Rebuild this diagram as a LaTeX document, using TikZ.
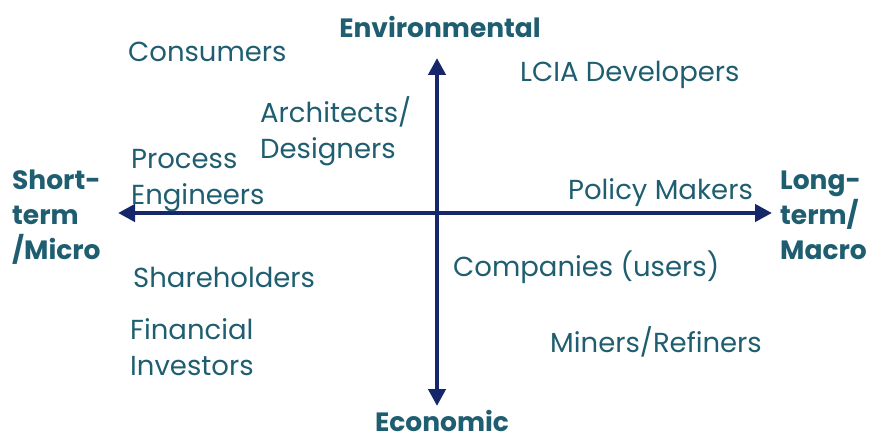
\documentclass[tikz,border=0pt]{standalone}
\usepackage{fontspec}
\setmainfont{Poppins}
\usetikzlibrary{arrows.meta}
\definecolor{txt}{HTML}{1F5E70}
\definecolor{axis}{HTML}{15266B}
\begin{document}
\begin{tikzpicture}[x=1pt,y=-1pt,
  lbl/.style={text=txt,font=\fontsize{27.5}{36}\selectfont,inner sep=0pt,align=left},
  ttl/.style={text=txt,font=\fontsize{26.5}{35}\selectfont\bfseries,inner sep=0pt,align=left},
  ax/.style={draw=axis,line width=4.5pt,-{Triangle[length=17pt,width=17pt]}}]
\useasboundingbox (0,0) rectangle (875,443);
\coordinate (c) at (437,213);
\coordinate (top) at (437,58);
\coordinate (bot) at (437,406);
\coordinate (lft) at (118,213);
\coordinate (rgt) at (772,213);
\draw[ax] (c) -- (top);
\draw[ax] (c) -- (bot);
\draw[ax] (c) -- (lft);
\draw[ax] (c) -- (rgt);
\node[ttl,anchor=center] (env) at (440,27) {Environmental};
\node[ttl,anchor=center] (eco) at (442,421) {Economic};
\node[ttl,anchor=west] (short) at (12,217) {Short-\\term\\/Micro};
\node[ttl,anchor=west] (long) at (780,215) {Long-\\term/\\Macro};
\node[lbl,anchor=west] (cons) at (128,52) {Consumers};
\node[lbl,anchor=west] (lcia) at (520,75) {LCIA Developers};
\node[lbl,anchor=west] (arch) at (260,131) {Architects/\\Designers};
\node[lbl,anchor=west] (proc) at (131,181) {Process\\Engineers};
\node[lbl,anchor=west] (pol) at (568,193) {Policy Makers};
\node[lbl,anchor=west] (share) at (133,277) {Shareholders};
\node[lbl,anchor=west] (comp) at (453,267) {Companies (users)};
\node[lbl,anchor=west] (fin) at (130,347) {Financial\\Investors};
\node[lbl,anchor=west] (mine) at (550,342) {Miners/Refiners};
\end{tikzpicture}
\end{document}
